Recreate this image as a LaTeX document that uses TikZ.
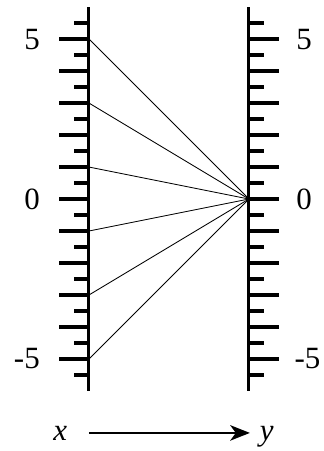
\documentclass[tikz,border=0pt]{standalone}
\usepackage{fontspec}
\setmainfont{Liberation Serif}
\usetikzlibrary{arrows.meta}

\begin{document}
\begin{tikzpicture}[x=0.8cm, y=0.8cm,
  axis/.style={line width=2.2pt},
  ray/.style={line width=0.6pt},
  lbl/.style={font=\fontsize{22}{26}\selectfont, inner sep=0pt},
  flow/.style={-{Stealth[length=14pt, width=11pt, inset=4pt]}, line width=1.7pt}
]
  \useasboundingbox (-2.78,-7.875) rectangle (7.34,6.22);
  % the two axes
  \coordinate (ltop) at (0,6);
  \coordinate (lbot) at (0,-6);
  \coordinate (rtop) at (5,6);
  \coordinate (rbot) at (5,-6);
  \draw[axis] (ltop) -- (lbot);
  \draw[axis] (rtop) -- (rbot);
  % ticks
  \foreach \k in {-5,...,5} {
    \draw[axis] (0,\k) -- ++(-0.95,0);
    \draw[axis] (5,\k) -- ++(0.95,0);
  }
  \foreach \k in {-6,...,5} {
    \draw[axis] (0,\k+0.5) -- ++(-0.48,0);
    \draw[axis] (5,\k+0.5) -- ++(0.48,0);
  }
  % labels
  \node[lbl, anchor=east] (l5lab) at (-1.53,5) {5};
  \node[lbl, anchor=east] (l0lab) at (-1.53,0) {0};
  \node[lbl, anchor=east] (lm5lab) at (-1.53,-5) {-5};
  \node[lbl, anchor=west] (r5lab) at (6.47,5) {5};
  \node[lbl, anchor=west] (r0lab) at (6.47,0) {0};
  \node[lbl, anchor=west] (rm5lab) at (6.42,-5) {-5};
  % rays to the origin of y
  \coordinate (r0) at (5,0);
  \foreach \v in {5,3,1,-1,-3,-5} {
    \coordinate (l\v) at (0,\v);
    \draw[ray] (l\v) -- (r0);
  }
  % map x -> y
  \node[lbl, anchor=base] (xlab) at (-0.9,-7.56) {\textit{x}};
  \node[lbl, anchor=base] (ylab) at (5.56,-7.56) {\textit{y}};
  \coordinate (src) at (0,-7.31);
  \coordinate (dst) at (5.03,-7.31);
  \draw[flow] (src) -- (dst);
\end{tikzpicture}
\end{document}
